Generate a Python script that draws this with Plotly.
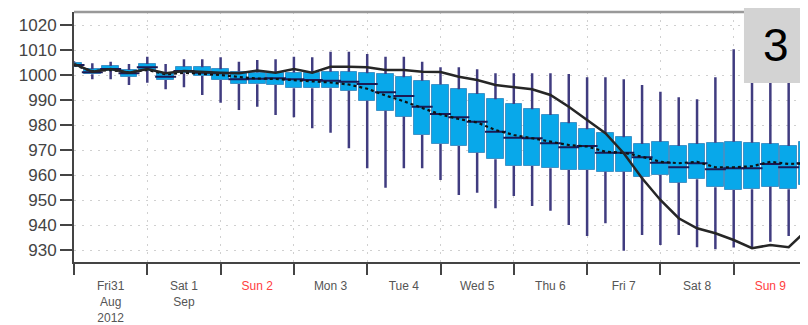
import plotly.graph_objects as go
import pandas as pd

# 6-hourly ensemble steps, Fri 31 Aug 2012 00 UTC -> Mon 10 Sep 00 UTC
times = pd.date_range("2012-08-31 00:00", periods=41, freq="6h")

whisker_low = [1003.2, 998.3, 998.3, 996.0, 996.9, 994.3, 995.1, 992.0, 988.9, 986.0,
               987.3, 984.0, 983.1, 978.7, 976.9, 970.7, 962.7, 954.9, 962.7, 962.7,
               958.0, 952.0, 952.9, 946.7, 951.6, 947.6, 945.7, 940.0, 935.6, 940.7,
               929.7, 936.0, 932.0, 936.0, 931.1, 930.3, 931.0, 930.8, 933.3, 935.6, 936.0]
q1 = [1003.4, 1000.3, 1001.6, 999.3, 1001.7, 998.0, 1000.7, 999.6, 998.0, 996.4,
      996.3, 996.0, 994.7, 994.7, 994.7, 993.7, 989.7, 985.7, 983.3, 976.0,
      972.4, 971.6, 968.9, 966.3, 963.6, 963.6, 962.7, 962.0, 962.0, 961.3,
      961.3, 959.3, 960.0, 956.9, 958.3, 955.1, 954.0, 954.3, 955.3, 954.3, 956.0]
median = [1004.0, 1001.1, 1002.4, 1000.7, 1003.1, 999.3, 1001.6, 1000.9, 1000.7, 998.3,
          998.5, 998.7, 998.3, 998.0, 997.7, 997.3, 996.4, 993.1, 991.6, 987.3,
          984.4, 983.1, 981.3, 977.3, 974.9, 974.7, 972.7, 971.1, 971.6, 968.9,
          968.9, 967.1, 964.9, 963.1, 964.7, 962.3, 962.7, 962.7, 964.4, 963.1, 964.7]
q3 = [1005.0, 1002.3, 1003.6, 1002.0, 1004.4, 1000.7, 1003.3, 1003.1, 1002.3, 1001.3,
      1001.0, 1000.7, 1001.0, 1000.7, 1001.3, 1001.3, 1000.7, 1000.4, 999.1, 997.7,
      996.2, 994.3, 992.4, 990.3, 988.4, 986.3, 984.0, 980.7, 978.3, 976.9,
      975.1, 972.4, 973.3, 971.6, 972.4, 972.9, 973.3, 972.9, 972.4, 971.6, 973.3]
whisker_high = [1005.5, 1004.7, 1005.3, 1004.4, 1007.3, 1004.4, 1006.3, 1006.3, 1007.1, 1005.3,
                1006.0, 1006.3, 1007.3, 1007.1, 1009.3, 1009.3, 1008.4, 1007.3, 1007.3, 1005.3,
                1003.1, 1003.1, 1002.3, 1000.7, 1000.7, 1000.7, 1000.7, 1000.4, 999.1, 999.1,
                998.3, 996.0, 993.3, 991.1, 990.3, 999.1, 1010.3, 1003.0, 1004.0, 1002.0, 1001.0]
ens_mean = [1004.0, 1001.5, 1002.0, 1001.0, 1002.0, 1000.3, 1000.9, 1000.6, 1000.0, 999.2,
            998.6, 998.4, 998.0, 997.6, 997.0, 996.2, 994.5, 991.8, 989.5, 986.8,
            984.2, 982.4, 981.0, 978.0, 976.0, 974.7, 973.3, 972.0, 971.4, 969.3,
            968.9, 967.3, 965.3, 964.7, 965.3, 963.1, 963.1, 963.5, 965.3, 964.4, 964.7]
hres = [1004.4, 1001.3, 1002.4, 1000.9, 1002.4, 1000.7, 1001.6, 1001.1, 1000.9, 1000.7,
        1001.8, 1000.9, 1002.4, 1000.9, 1003.3, 1003.3, 1003.1, 1002.0, 1002.0, 1001.3,
        1001.2, 999.3, 998.0, 996.0, 995.3, 994.3, 992.0, 987.3, 982.0, 976.7,
        968.7, 958.7, 950.0, 942.7, 938.7, 936.7, 934.0, 930.7, 932.0, 931.1, 938.0]

day_noons = pd.date_range("2012-08-31 12:00", periods=10, freq="D")
day_labels = ["Fri31<br>Aug<br>2012", "Sat 1<br>Sep", "Sun 2", "Mon 3", "Tue 4",
              "Wed 5", "Thu 6", "Fri 7", "Sat 8", "Sun 9"]
sunday = [False, False, True, False, False, False, False, False, False, True]
y_ticks = [930, 940, 950, 960, 970, 980, 990, 1000, 1010, 1020]
panel_label = "3"

tick_text = [f"<span style='color:#ff4040'>{t}</span>" if s else t
             for t, s in zip(day_labels, sunday)]

# whisker segments outside the boxes
wx, wy = [], []
for t, lo, a, b, hi in zip(times, whisker_low, q1, q3, whisker_high):
    wx += [t, t, None, t, t, None]
    wy += [b, hi, None, lo, a, None]

step_ms = 6 * 3600 * 1000
grid_dash = "2px,6px"

fig = go.Figure()
fig.add_trace(go.Bar(
    x=times, y=[b - a for a, b in zip(q1, q3)], base=q1,
    width=step_ms * 0.9,
    marker=dict(color="#08a8ea", line=dict(color="#3f93c8", width=1)),
    showlegend=False, hoverinfo="skip"))
fig.add_trace(go.Scatter(
    x=wx, y=wy, mode="lines", line=dict(color="#403c80", width=2.5),
    showlegend=False, hoverinfo="skip"))
fig.add_trace(go.Scatter(
    x=times, y=median, mode="markers",
    marker=dict(symbol="line-ew", size=15, line=dict(color="#1a1a55", width=2)),
    showlegend=False))
fig.add_trace(go.Scatter(
    x=times, y=ens_mean, mode="lines",
    line=dict(color="#111111", width=2.2, dash="dot"), showlegend=False))
fig.add_trace(go.Scatter(
    x=times, y=hres, mode="lines",
    line=dict(color="#262626", width=2.5), showlegend=False))

# page body has an 8px default margin, so the figure is sized to fill the rest
fig.update_layout(
    width=800, height=317,
    margin=dict(l=66, r=1, t=4, b=63),
    paper_bgcolor="white", plot_bgcolor="white",
    font=dict(family="Liberation Sans, Arial, sans-serif", color="#444"),
    bargap=0,
    xaxis=dict(
        type="date", automargin=False,
        range=[times[0], pd.Timestamp("2012-09-10 00:00")],
        tickmode="array", tickvals=day_noons, ticktext=tick_text,
        ticks="outside", ticklen=12, tickcolor="rgba(0,0,0,0)",
        showgrid=False, zeroline=False,
        tickfont=dict(size=12, color="#555"),
        showline=True, linecolor="#444", linewidth=2,
        minor=dict(tick0="2012-08-31", dtick=86400000, ticks="outside",
                   ticklen=11, tickwidth=2, tickcolor="#444",
                   showgrid=True, gridcolor="#d0d0d0", griddash=grid_dash, gridwidth=1),
    ),
    yaxis=dict(
        automargin=False,
        range=[925.2, 1025.2], tickmode="array", tickvals=y_ticks,
        ticks="outside", ticklen=12, tickwidth=2, tickcolor="#444",
        showline=True, linecolor="#444", linewidth=2,
        showgrid=True, gridcolor="#d0d0d0", griddash=grid_dash, gridwidth=1,
        zeroline=False, tickfont=dict(size=17, color="#444"),
    ),
    shapes=[
        dict(type="line", xref="paper", yref="paper", x0=0, x1=1, y0=1, y1=1,
             line=dict(color="#999999", width=2.5)),
        dict(type="line", xref="paper", yref="paper", x0=1, x1=1, y0=0, y1=1,
             line=dict(color="#555555", width=2)),
        dict(type="rect", xref="paper", yref="paper", x0=0.914, x1=1.002,
             y0=0.716, y1=1.03, fillcolor="#d3d3d3", line=dict(width=0),
             layer="above"),
    ],
    annotations=[
        dict(text=panel_label, xref="paper", yref="paper", x=0.958, y=0.868,
             showarrow=False, font=dict(size=46, color="#000",
                                        family="Liberation Sans, Arial, sans-serif"),
             xanchor="center", yanchor="middle"),
    ],
)

fig.write_html("out.html")
